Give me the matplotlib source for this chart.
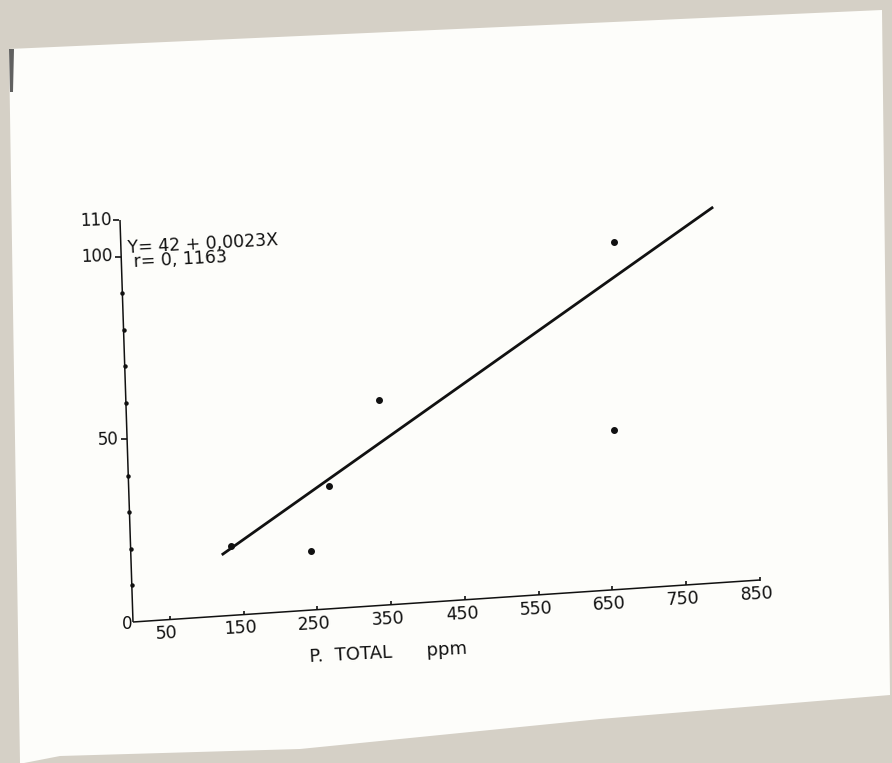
import matplotlib
matplotlib.use("Agg")
import matplotlib.pyplot as plt
from matplotlib.transforms import Affine2D, offset_copy
from matplotlib.patches import Polygon

# ---------------- data ----------------
p_total = [136, 244, 271, 343, 667, 659]          # x values (ppm)
y_vals = [19, 16, 33.6, 56, 95, 43.5]             # y values
line_x = [123, 803]                                # regression line ends
line_y = [16.7, 102.7]
x_ticks = [50, 150, 250, 350, 450, 550, 650, 750, 850]
x_tick_labels = ["50", "150", "250", "350", "450", "550", "650", "750", "850"]
y_major = [50, 100, 110]
y_major_labels = ["50", "100", "110"]
y_minor = [10, 20, 30, 40, 60, 70, 80, 90]
x_axis_max = 850
y_axis_max = 110
equation = "Y= 42 + 0,0023X"
corr = "r= 0, 1163"
x_label = "P.  TOTAL      ppm"

# ---------------- figure ----------------
W, H = 892, 763
fig = plt.figure(figsize=(W / 100, H / 100), dpi=100)
fig.patch.set_facecolor("#d5d0c6")
ax = fig.add_axes([0, 0, 1, 1])
ax.set_xlim(0, W)
ax.set_ylim(H, 0)
ax.set_axis_off()

# paper sheet
paper = Polygon([(9, 49), (882, 10), (890, 695), (600, 719), (300, 749),
                 (60, 756), (24, 763), (20, 763)],
                closed=True, facecolor="#fdfdfa", edgecolor="none", zorder=0)
ax.add_patch(paper)
shadow = Polygon([(9, 49), (14, 49), (13, 92), (10, 92)], closed=True,
                 facecolor="#3a3a3a", edgecolor="none", alpha=0.8, zorder=0.5)
ax.add_patch(shadow)

# skewed data transform (photo perspective): data -> image pixels
tr = Affine2D.from_values(0.7376, -0.0494, -0.1182, -3.6545, 133, 622) + ax.transData

ink = "#111111"
fontfam = ["DejaVu Sans"]

# axes lines
ax.plot([0, x_axis_max], [0, 0], color=ink, lw=1.1, transform=tr, solid_capstyle="butt")
ax.plot([0, 0], [0, y_axis_max], color=ink, lw=1.1, transform=tr, solid_capstyle="butt")

# x ticks
ax.plot(x_ticks, [0] * len(x_ticks), linestyle="none", marker="|", ms=3.5,
        mew=1.2, color=ink, transform=offset_copy(tr, fig, x=0, y=1.5, units="dots"))
for t, lab in zip(x_ticks, x_tick_labels):
    ax.text(t, 0, lab, transform=offset_copy(tr, fig, x=-3, y=-14, units="dots"),
            ha="center", va="center", fontsize=12.5, rotation=3, color=ink,
            family=fontfam)

# y ticks
ax.plot([0] * len(y_major), y_major, linestyle="none", marker="_", ms=5,
        mew=1.2, color=ink, transform=offset_copy(tr, fig, x=-3.5, y=0, units="dots"))
ax.plot([0] * len(y_minor), y_minor, linestyle="none", marker="o", ms=2.2,
        color=ink, transform=tr)
for t, lab in zip(y_major, y_major_labels):
    ax.text(0, t, lab, transform=offset_copy(tr, fig, x=-8, y=0, units="dots"),
            ha="right", va="center", fontsize=12, rotation=2, color=ink,
            family=fontfam)
ax.text(0, 0, "0", transform=offset_copy(tr, fig, x=-1, y=-2, units="dots"),
        ha="right", va="center", fontsize=12, color=ink, family=fontfam)

# data points and regression line
ax.plot(p_total, y_vals, linestyle="none", marker="o", ms=4, color=ink, transform=tr)
ax.plot(line_x, line_y, color=ink, lw=2.0, transform=tr, solid_capstyle="butt")

# annotations
ax.text(128, 253, equation, ha="left", va="baseline", fontsize=12.5, rotation=3,
        rotation_mode="anchor", color=ink, family=fontfam)
ax.text(134, 267, corr, ha="left", va="baseline", fontsize=12.5, rotation=3,
        rotation_mode="anchor", color=ink, family=fontfam)
ax.text(310, 662, x_label, ha="left", va="baseline", fontsize=13, rotation=3,
        rotation_mode="anchor", color=ink, family=fontfam)

fig.savefig("out.png", dpi=100, facecolor=fig.get_facecolor())
